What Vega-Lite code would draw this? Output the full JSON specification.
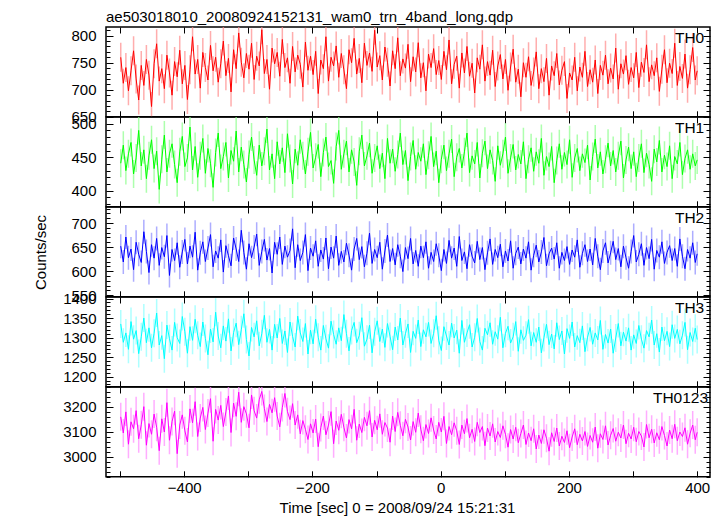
{
"$schema":"https://vega.github.io/schema/vega-lite/v6.json",
"autosize":{"type":"pad"},
"padding":{"left":32,"top":10,"right":5,"bottom":2},
"background":"white",
"spacing":0,
"bounds":"flush",
"title":{"text":"ae503018010_20080924152131_wam0_trn_4band_long.qdp","anchor":"start","frame":"group","fontSize":15,"fontWeight":"normal","font":"Liberation Sans","color":"#000","offset":-3},
"config":{"font":"Liberation Sans","view":{"stroke":"#000","strokeWidth":1.5},
"axis":{"labelFont":"Liberation Sans","labelFontSize":15,"labelColor":"#000","tickColor":"#000","tickWidth":1,"domain":false,"grid":false,"labelOverlap":false,"labelFlush":false,"titleFont":"Liberation Sans","titleFontSize":15,"titleFontWeight":"normal","titleColor":"#000","format":"d"}},
"datasets":{"lc":[
{"t":-499,"TH0":760,"TH1":441,"TH2":652,"TH3":1335,"TH0123":3160},
{"t":-495,"TH0":712,"TH1":468,"TH2":619,"TH3":1288,"TH0123":3095},
{"t":-491,"TH0":741,"TH1":430,"TH2":671,"TH3":1312,"TH0123":3180},
{"t":-487,"TH0":698,"TH1":455,"TH2":628,"TH3":1270,"TH0123":3050},
{"t":-483,"TH0":735,"TH1":472,"TH2":646,"TH3":1341,"TH0123":3140},
{"t":-479,"TH0":772,"TH1":425,"TH2":603,"TH3":1296,"TH0123":3112},
{"t":-475,"TH0":720,"TH1":449,"TH2":660,"TH3":1318,"TH0123":3185},
{"t":-471,"TH0":681,"TH1":490,"TH2":635,"TH3":1259,"TH0123":3072},
{"t":-467,"TH0":745,"TH1":437,"TH2":618,"TH3":1302,"TH0123":3128},
{"t":-463,"TH0":708,"TH1":461,"TH2":682,"TH3":1350,"TH0123":3201},
{"t":-459,"TH0":756,"TH1":418,"TH2":641,"TH3":1287,"TH0123":3046},
{"t":-455,"TH0":727,"TH1":452,"TH2":597,"TH3":1325,"TH0123":3133},
{"t":-451,"TH0":669,"TH1":476,"TH2":655,"TH3":1274,"TH0123":3090},
{"t":-447,"TH0":748,"TH1":433,"TH2":627,"TH3":1311,"TH0123":3171},
{"t":-443,"TH0":785,"TH1":459,"TH2":668,"TH3":1363,"TH0123":3118},
{"t":-439,"TH0":716,"TH1":402,"TH2":612,"TH3":1281,"TH0123":3024},
{"t":-435,"TH0":739,"TH1":447,"TH2":649,"TH3":1305,"TH0123":3152},
{"t":-431,"TH0":702,"TH1":483,"TH2":630,"TH3":1246,"TH0123":3099},
{"t":-427,"TH0":764,"TH1":428,"TH2":674,"TH3":1332,"TH0123":3217},
{"t":-423,"TH0":731,"TH1":455,"TH2":591,"TH3":1297,"TH0123":3066},
{"t":-419,"TH0":690,"TH1":470,"TH2":645,"TH3":1268,"TH0123":3141},
{"t":-415,"TH0":752,"TH1":439,"TH2":622,"TH3":1339,"TH0123":3183},
{"t":-411,"TH0":724,"TH1":412,"TH2":659,"TH3":1300,"TH0123":3012},
{"t":-407,"TH0":773,"TH1":458,"TH2":608,"TH3":1285,"TH0123":3127},
{"t":-403,"TH0":711,"TH1":481,"TH2":640,"TH3":1354,"TH0123":3168},
{"t":-399,"TH0":745,"TH1":436,"TH2":666,"TH3":1315,"TH0123":3104},
{"t":-395,"TH0":682,"TH1":449,"TH2":615,"TH3":1260,"TH0123":3059},
{"t":-391,"TH0":737,"TH1":495,"TH2":652,"TH3":1328,"TH0123":3192},
{"t":-387,"TH0":798,"TH1":431,"TH2":629,"TH3":1293,"TH0123":3136},
{"t":-383,"TH0":729,"TH1":466,"TH2":681,"TH3":1347,"TH0123":3221},
{"t":-379,"TH0":756,"TH1":420,"TH2":602,"TH3":1306,"TH0123":3081},
{"t":-375,"TH0":703,"TH1":452,"TH2":638,"TH3":1277,"TH0123":3155},
{"t":-371,"TH0":769,"TH1":478,"TH2":661,"TH3":1340,"TH0123":3198},
{"t":-367,"TH0":741,"TH1":426,"TH2":620,"TH3":1298,"TH0123":3109},
{"t":-363,"TH0":718,"TH1":463,"TH2":648,"TH3":1256,"TH0123":3175},
{"t":-359,"TH0":782,"TH1":441,"TH2":676,"TH3":1322,"TH0123":3233},
{"t":-355,"TH0":735,"TH1":405,"TH2":609,"TH3":1289,"TH0123":3062},
{"t":-351,"TH0":760,"TH1":457,"TH2":642,"TH3":1365,"TH0123":3190},
{"t":-347,"TH0":714,"TH1":486,"TH2":627,"TH3":1304,"TH0123":3147},
{"t":-343,"TH0":748,"TH1":433,"TH2":665,"TH3":1274,"TH0123":3206},
{"t":-339,"TH0":790,"TH1":451,"TH2":598,"TH3":1330,"TH0123":3121},
{"t":-335,"TH0":726,"TH1":472,"TH2":653,"TH3":1291,"TH0123":3180},
{"t":-331,"TH0":758,"TH1":419,"TH2":632,"TH3":1348,"TH0123":3244},
{"t":-327,"TH0":696,"TH1":460,"TH2":611,"TH3":1266,"TH0123":3097},
{"t":-323,"TH0":774,"TH1":444,"TH2":669,"TH3":1313,"TH0123":3215},
{"t":-319,"TH0":739,"TH1":489,"TH2":646,"TH3":1337,"TH0123":3162},
{"t":-315,"TH0":805,"TH1":428,"TH2":620,"TH3":1282,"TH0123":3259},
{"t":-311,"TH0":751,"TH1":465,"TH2":685,"TH3":1320,"TH0123":3138},
{"t":-307,"TH0":722,"TH1":439,"TH2":639,"TH3":1361,"TH0123":3201},
{"t":-303,"TH0":767,"TH1":413,"TH2":604,"TH3":1295,"TH0123":3172},
{"t":-299,"TH0":738,"TH1":454,"TH2":657,"TH3":1253,"TH0123":3116},
{"t":-295,"TH0":786,"TH1":480,"TH2":628,"TH3":1326,"TH0123":3248},
{"t":-291,"TH0":719,"TH1":446,"TH2":650,"TH3":1302,"TH0123":3185},
{"t":-287,"TH0":762,"TH1":423,"TH2":677,"TH3":1343,"TH0123":3155},
{"t":-283,"TH0":744,"TH1":468,"TH2":612,"TH3":1279,"TH0123":3229},
{"t":-279,"TH0":811,"TH1":437,"TH2":641,"TH3":1310,"TH0123":3262},
{"t":-275,"TH0":730,"TH1":459,"TH2":666,"TH3":1357,"TH0123":3194},
{"t":-271,"TH0":756,"TH1":492,"TH2":623,"TH3":1288,"TH0123":3141},
{"t":-267,"TH0":701,"TH1":431,"TH2":647,"TH3":1321,"TH0123":3210},
{"t":-263,"TH0":777,"TH1":455,"TH2":596,"TH3":1268,"TH0123":3176},
{"t":-259,"TH0":748,"TH1":418,"TH2":660,"TH3":1334,"TH0123":3237},
{"t":-255,"TH0":769,"TH1":473,"TH2":635,"TH3":1299,"TH0123":3163},
{"t":-251,"TH0":725,"TH1":440,"TH2":671,"TH3":1349,"TH0123":3120},
{"t":-247,"TH0":793,"TH1":464,"TH2":614,"TH3":1285,"TH0123":3198},
{"t":-243,"TH0":741,"TH1":427,"TH2":652,"TH3":1317,"TH0123":3254},
{"t":-239,"TH0":759,"TH1":485,"TH2":629,"TH3":1262,"TH0123":3181},
{"t":-235,"TH0":712,"TH1":448,"TH2":643,"TH3":1340,"TH0123":3149},
{"t":-231,"TH0":780,"TH1":410,"TH2":688,"TH3":1303,"TH0123":3213},
{"t":-227,"TH0":733,"TH1":462,"TH2":607,"TH3":1276,"TH0123":3127},
{"t":-223,"TH0":764,"TH1":438,"TH2":655,"TH3":1355,"TH0123":3168},
{"t":-219,"TH0":747,"TH1":476,"TH2":622,"TH3":1312,"TH0123":3092},
{"t":-215,"TH0":705,"TH1":452,"TH2":639,"TH3":1290,"TH0123":3145},
{"t":-211,"TH0":788,"TH1":425,"TH2":676,"TH3":1336,"TH0123":3110},
{"t":-207,"TH0":736,"TH1":458,"TH2":601,"TH3":1258,"TH0123":3069},
{"t":-203,"TH0":762,"TH1":487,"TH2":648,"TH3":1319,"TH0123":3132},
{"t":-199,"TH0":728,"TH1":434,"TH2":631,"TH3":1284,"TH0123":3095},
{"t":-195,"TH0":771,"TH1":450,"TH2":663,"TH3":1347,"TH0123":3151},
{"t":-191,"TH0":693,"TH1":469,"TH2":610,"TH3":1301,"TH0123":3040},
{"t":-187,"TH0":755,"TH1":421,"TH2":644,"TH3":1268,"TH0123":3117},
{"t":-183,"TH0":739,"TH1":457,"TH2":625,"TH3":1331,"TH0123":3163},
{"t":-179,"TH0":798,"TH1":480,"TH2":669,"TH3":1297,"TH0123":3088},
{"t":-175,"TH0":716,"TH1":436,"TH2":605,"TH3":1273,"TH0123":3127},
{"t":-171,"TH0":760,"TH1":445,"TH2":650,"TH3":1342,"TH0123":3181},
{"t":-167,"TH0":744,"TH1":411,"TH2":627,"TH3":1308,"TH0123":3052},
{"t":-163,"TH0":781,"TH1":466,"TH2":673,"TH3":1283,"TH0123":3143},
{"t":-159,"TH0":723,"TH1":490,"TH2":612,"TH3":1325,"TH0123":3106},
{"t":-155,"TH0":767,"TH1":432,"TH2":641,"TH3":1292,"TH0123":3170},
{"t":-151,"TH0":737,"TH1":455,"TH2":619,"TH3":1359,"TH0123":3118},
{"t":-147,"TH0":702,"TH1":474,"TH2":658,"TH3":1310,"TH0123":3075},
{"t":-143,"TH0":774,"TH1":428,"TH2":633,"TH3":1266,"TH0123":3149},
{"t":-139,"TH0":750,"TH1":461,"TH2":602,"TH3":1318,"TH0123":3112},
{"t":-135,"TH0":795,"TH1":443,"TH2":646,"TH3":1339,"TH0123":3190},
{"t":-131,"TH0":729,"TH1":408,"TH2":668,"TH3":1287,"TH0123":3066},
{"t":-127,"TH0":758,"TH1":459,"TH2":624,"TH3":1305,"TH0123":3131},
{"t":-123,"TH0":713,"TH1":483,"TH2":651,"TH3":1351,"TH0123":3097},
{"t":-119,"TH0":786,"TH1":437,"TH2":609,"TH3":1278,"TH0123":3158},
{"t":-115,"TH0":745,"TH1":452,"TH2":637,"TH3":1296,"TH0123":3124},
{"t":-111,"TH0":768,"TH1":471,"TH2":679,"TH3":1332,"TH0123":3185},
{"t":-107,"TH0":734,"TH1":426,"TH2":616,"TH3":1261,"TH0123":3079},
{"t":-103,"TH0":810,"TH1":449,"TH2":645,"TH3":1315,"TH0123":3146},
{"t":-99,"TH0":742,"TH1":467,"TH2":628,"TH3":1343,"TH0123":3108},
{"t":-95,"TH0":763,"TH1":433,"TH2":660,"TH3":1290,"TH0123":3172},
{"t":-91,"TH0":718,"TH1":456,"TH2":604,"TH3":1322,"TH0123":3090},
{"t":-87,"TH0":779,"TH1":418,"TH2":642,"TH3":1275,"TH0123":3137},
{"t":-83,"TH0":751,"TH1":478,"TH2":675,"TH3":1336,"TH0123":3115},
{"t":-79,"TH0":707,"TH1":441,"TH2":620,"TH3":1303,"TH0123":3058},
{"t":-75,"TH0":772,"TH1":462,"TH2":647,"TH3":1269,"TH0123":3163},
{"t":-71,"TH0":739,"TH1":429,"TH2":613,"TH3":1327,"TH0123":3101},
{"t":-67,"TH0":796,"TH1":454,"TH2":655,"TH3":1294,"TH0123":3178},
{"t":-63,"TH0":726,"TH1":486,"TH2":631,"TH3":1350,"TH0123":3126},
{"t":-59,"TH0":757,"TH1":439,"TH2":599,"TH3":1281,"TH0123":3084},
{"t":-55,"TH0":740,"TH1":460,"TH2":649,"TH3":1310,"TH0123":3150},
{"t":-51,"TH0":784,"TH1":415,"TH2":626,"TH3":1335,"TH0123":3119},
{"t":-47,"TH0":715,"TH1":451,"TH2":668,"TH3":1262,"TH0123":3067},
{"t":-43,"TH0":761,"TH1":475,"TH2":615,"TH3":1316,"TH0123":3141},
{"t":-39,"TH0":733,"TH1":432,"TH2":643,"TH3":1298,"TH0123":3098},
{"t":-35,"TH0":787,"TH1":457,"TH2":610,"TH3":1345,"TH0123":3175},
{"t":-31,"TH0":722,"TH1":444,"TH2":652,"TH3":1277,"TH0123":3110},
{"t":-27,"TH0":750,"TH1":470,"TH2":628,"TH3":1320,"TH0123":3064},
{"t":-23,"TH0":698,"TH1":424,"TH2":661,"TH3":1302,"TH0123":3129},
{"t":-19,"TH0":766,"TH1":453,"TH2":606,"TH3":1339,"TH0123":3093},
{"t":-15,"TH0":741,"TH1":481,"TH2":639,"TH3":1285,"TH0123":3156},
{"t":-11,"TH0":776,"TH1":436,"TH2":620,"TH3":1311,"TH0123":3107},
{"t":-7,"TH0":728,"TH1":459,"TH2":657,"TH3":1356,"TH0123":3071},
{"t":-3,"TH0":754,"TH1":412,"TH2":633,"TH3":1293,"TH0123":3138},
{"t":1,"TH0":719,"TH1":447,"TH2":601,"TH3":1267,"TH0123":3099},
{"t":5,"TH0":771,"TH1":468,"TH2":645,"TH3":1328,"TH0123":3162},
{"t":9,"TH0":737,"TH1":430,"TH2":616,"TH3":1304,"TH0123":3053},
{"t":13,"TH0":792,"TH1":455,"TH2":664,"TH3":1281,"TH0123":3121},
{"t":17,"TH0":711,"TH1":477,"TH2":627,"TH3":1337,"TH0123":3088},
{"t":21,"TH0":747,"TH1":421,"TH2":648,"TH3":1299,"TH0123":3136},
{"t":25,"TH0":762,"TH1":450,"TH2":610,"TH3":1319,"TH0123":3104},
{"t":29,"TH0":703,"TH1":463,"TH2":672,"TH3":1260,"TH0123":3049},
{"t":33,"TH0":768,"TH1":434,"TH2":622,"TH3":1344,"TH0123":3127},
{"t":37,"TH0":731,"TH1":458,"TH2":640,"TH3":1288,"TH0123":3092},
{"t":41,"TH0":780,"TH1":486,"TH2":605,"TH3":1312,"TH0123":3153},
{"t":45,"TH0":725,"TH1":427,"TH2":655,"TH3":1333,"TH0123":3076},
{"t":49,"TH0":749,"TH1":452,"TH2":631,"TH3":1276,"TH0123":3110},
{"t":53,"TH0":694,"TH1":440,"TH2":617,"TH3":1301,"TH0123":3061},
{"t":57,"TH0":759,"TH1":472,"TH2":662,"TH3":1349,"TH0123":3138},
{"t":61,"TH0":738,"TH1":419,"TH2":624,"TH3":1290,"TH0123":3097},
{"t":65,"TH0":783,"TH1":456,"TH2":649,"TH3":1268,"TH0123":3121},
{"t":69,"TH0":716,"TH1":474,"TH2":603,"TH3":1324,"TH0123":3044},
{"t":73,"TH0":752,"TH1":433,"TH2":638,"TH3":1307,"TH0123":3115},
{"t":77,"TH0":727,"TH1":461,"TH2":667,"TH3":1338,"TH0123":3083},
{"t":81,"TH0":773,"TH1":445,"TH2":614,"TH3":1283,"TH0123":3132},
{"t":85,"TH0":706,"TH1":414,"TH2":645,"TH3":1315,"TH0123":3059},
{"t":89,"TH0":744,"TH1":467,"TH2":628,"TH3":1296,"TH0123":3101},
{"t":93,"TH0":765,"TH1":438,"TH2":656,"TH3":1352,"TH0123":3077},
{"t":97,"TH0":720,"TH1":455,"TH2":609,"TH3":1274,"TH0123":3124},
{"t":101,"TH0":756,"TH1":480,"TH2":642,"TH3":1311,"TH0123":3090},
{"t":105,"TH0":699,"TH1":426,"TH2":621,"TH3":1329,"TH0123":3038},
{"t":109,"TH0":742,"TH1":449,"TH2":663,"TH3":1286,"TH0123":3109},
{"t":113,"TH0":775,"TH1":469,"TH2":606,"TH3":1302,"TH0123":3071},
{"t":117,"TH0":714,"TH1":431,"TH2":637,"TH3":1341,"TH0123":3118},
{"t":121,"TH0":738,"TH1":454,"TH2":650,"TH3":1265,"TH0123":3056},
{"t":125,"TH0":687,"TH1":440,"TH2":615,"TH3":1320,"TH0123":3093},
{"t":129,"TH0":750,"TH1":473,"TH2":646,"TH3":1293,"TH0123":3127},
{"t":133,"TH0":723,"TH1":418,"TH2":627,"TH3":1306,"TH0123":3049},
{"t":137,"TH0":761,"TH1":447,"TH2":661,"TH3":1346,"TH0123":3095},
{"t":141,"TH0":708,"TH1":464,"TH2":602,"TH3":1279,"TH0123":3064},
{"t":145,"TH0":733,"TH1":429,"TH2":633,"TH3":1313,"TH0123":3112},
{"t":149,"TH0":770,"TH1":458,"TH2":654,"TH3":1288,"TH0123":3031},
{"t":153,"TH0":702,"TH1":441,"TH2":619,"TH3":1327,"TH0123":3087},
{"t":157,"TH0":739,"TH1":478,"TH2":640,"TH3":1261,"TH0123":3053},
{"t":161,"TH0":715,"TH1":423,"TH2":670,"TH3":1300,"TH0123":3108},
{"t":165,"TH0":758,"TH1":451,"TH2":611,"TH3":1334,"TH0123":3074},
{"t":169,"TH0":690,"TH1":436,"TH2":636,"TH3":1282,"TH0123":3022},
{"t":173,"TH0":744,"TH1":466,"TH2":648,"TH3":1309,"TH0123":3096},
{"t":177,"TH0":726,"TH1":412,"TH2":625,"TH3":1271,"TH0123":3061},
{"t":181,"TH0":767,"TH1":445,"TH2":659,"TH3":1338,"TH0123":3115},
{"t":185,"TH0":709,"TH1":470,"TH2":606,"TH3":1295,"TH0123":3043},
{"t":189,"TH0":736,"TH1":432,"TH2":639,"TH3":1317,"TH0123":3082},
{"t":193,"TH0":752,"TH1":457,"TH2":622,"TH3":1258,"TH0123":3057},
{"t":197,"TH0":684,"TH1":439,"TH2":651,"TH3":1323,"TH0123":3104},
{"t":201,"TH0":731,"TH1":476,"TH2":614,"TH3":1298,"TH0123":3036},
{"t":205,"TH0":718,"TH1":420,"TH2":644,"TH3":1340,"TH0123":3079},
{"t":209,"TH0":760,"TH1":449,"TH2":629,"TH3":1276,"TH0123":3112},
{"t":213,"TH0":698,"TH1":463,"TH2":665,"TH3":1305,"TH0123":3048},
{"t":217,"TH0":742,"TH1":430,"TH2":608,"TH3":1287,"TH0123":3090},
{"t":221,"TH0":723,"TH1":455,"TH2":637,"TH3":1330,"TH0123":3063},
{"t":225,"TH0":771,"TH1":442,"TH2":655,"TH3":1264,"TH0123":3101},
{"t":229,"TH0":706,"TH1":468,"TH2":620,"TH3":1301,"TH0123":3041},
{"t":233,"TH0":737,"TH1":416,"TH2":646,"TH3":1326,"TH0123":3085},
{"t":237,"TH0":714,"TH1":451,"TH2":613,"TH3":1283,"TH0123":3058},
{"t":241,"TH0":755,"TH1":477,"TH2":668,"TH3":1312,"TH0123":3119},
{"t":245,"TH0":693,"TH1":434,"TH2":631,"TH3":1294,"TH0123":3034},
{"t":249,"TH0":745,"TH1":458,"TH2":603,"TH3":1344,"TH0123":3092},
{"t":253,"TH0":727,"TH1":425,"TH2":642,"TH3":1270,"TH0123":3069},
{"t":257,"TH0":764,"TH1":447,"TH2":659,"TH3":1308,"TH0123":3124},
{"t":261,"TH0":711,"TH1":471,"TH2":617,"TH3":1286,"TH0123":3047},
{"t":265,"TH0":740,"TH1":437,"TH2":638,"TH3":1322,"TH0123":3086},
{"t":269,"TH0":720,"TH1":460,"TH2":662,"TH3":1260,"TH0123":3113},
{"t":273,"TH0":777,"TH1":428,"TH2":624,"TH3":1299,"TH0123":3062},
{"t":277,"TH0":701,"TH1":452,"TH2":647,"TH3":1336,"TH0123":3098},
{"t":281,"TH0":748,"TH1":474,"TH2":609,"TH3":1279,"TH0123":3075},
{"t":285,"TH0":729,"TH1":419,"TH2":652,"TH3":1314,"TH0123":3127},
{"t":289,"TH0":763,"TH1":446,"TH2":628,"TH3":1291,"TH0123":3052},
{"t":293,"TH0":710,"TH1":465,"TH2":606,"TH3":1325,"TH0123":3094},
{"t":297,"TH0":741,"TH1":433,"TH2":641,"TH3":1268,"TH0123":3071},
{"t":301,"TH0":722,"TH1":458,"TH2":674,"TH3":1307,"TH0123":3118},
{"t":305,"TH0":769,"TH1":421,"TH2":619,"TH3":1285,"TH0123":3060},
{"t":309,"TH0":704,"TH1":449,"TH2":635,"TH3":1331,"TH0123":3101},
{"t":313,"TH0":751,"TH1":470,"TH2":657,"TH3":1296,"TH0123":3083},
{"t":317,"TH0":732,"TH1":427,"TH2":612,"TH3":1273,"TH0123":3039},
{"t":321,"TH0":783,"TH1":456,"TH2":649,"TH3":1318,"TH0123":3129},
{"t":325,"TH0":715,"TH1":439,"TH2":626,"TH3":1302,"TH0123":3076},
{"t":329,"TH0":746,"TH1":414,"TH2":666,"TH3":1345,"TH0123":3110},
{"t":333,"TH0":726,"TH1":462,"TH2":604,"TH3":1281,"TH0123":3055},
{"t":337,"TH0":759,"TH1":443,"TH2":643,"TH3":1310,"TH0123":3096},
{"t":341,"TH0":697,"TH1":475,"TH2":629,"TH3":1263,"TH0123":3068},
{"t":345,"TH0":738,"TH1":428,"TH2":661,"TH3":1327,"TH0123":3121},
{"t":349,"TH0":774,"TH1":453,"TH2":616,"TH3":1292,"TH0123":3085},
{"t":353,"TH0":713,"TH1":436,"TH2":639,"TH3":1316,"TH0123":3043},
{"t":357,"TH0":749,"TH1":467,"TH2":653,"TH3":1277,"TH0123":3107},
{"t":361,"TH0":730,"TH1":418,"TH2":622,"TH3":1333,"TH0123":3072},
{"t":365,"TH0":786,"TH1":451,"TH2":647,"TH3":1298,"TH0123":3130},
{"t":369,"TH0":708,"TH1":440,"TH2":610,"TH3":1321,"TH0123":3064},
{"t":373,"TH0":743,"TH1":472,"TH2":667,"TH3":1284,"TH0123":3099},
{"t":377,"TH0":721,"TH1":424,"TH2":631,"TH3":1306,"TH0123":3081},
{"t":381,"TH0":766,"TH1":448,"TH2":605,"TH3":1339,"TH0123":3116},
{"t":385,"TH0":703,"TH1":461,"TH2":645,"TH3":1269,"TH0123":3050},
{"t":389,"TH0":737,"TH1":432,"TH2":627,"TH3":1313,"TH0123":3094},
{"t":393,"TH0":778,"TH1":455,"TH2":659,"TH3":1290,"TH0123":3127},
{"t":397,"TH0":718,"TH1":437,"TH2":618,"TH3":1324,"TH0123":3068},
{"t":400,"TH0":735,"TH1":446,"TH2":636,"TH3":1295,"TH0123":3098}
]},
"vconcat":[
{"width":604,"height":89.8,"data":{"name":"lc"},"resolve":{"axis":{"x":"independent","y":"independent"}},
"layer":[
{"mark":{"type":"tick","orient":"vertical","size":29,"thickness":1.5,"color":"#ff8a8a","clip":true},
"encoding":{"x":{"field":"t","type":"quantitative","scale":{"domain":[-522,420],"nice":false,"zero":false},"axis":{"orient":"bottom","values":[-500,-400,-300,-200,-100,0,100,200,300,400],"labels":false,"tickSize":-6,"title":null,"minExtent":0,"maxExtent":0}},
"y":{"field":"TH0","type":"quantitative","scale":{"domain":[650,816],"nice":false,"zero":false},"axis":{"orient":"left","values":[650,660,670,680,690,700,710,720,730,740,750,760,770,780,790,800,810],"labelExpr":"datum.value % 50 === 0 ? datum.label : ''","tickSize":{"condition":{"test":"datum.value % 50 === 0","value":-7},"value":-4},"labelPadding":17,"title":null}}}},
{"mark":{"type":"line","color":"#ff0000","strokeWidth":1,"clip":true},
"encoding":{"x":{"field":"t","type":"quantitative","axis":{"orient":"top","values":[-500,-400,-300,-200,-100,0,100,200,300,400],"labels":false,"tickSize":-6,"title":null,"minExtent":0,"maxExtent":0}},
"y":{"field":"TH0","type":"quantitative","axis":{"orient":"right","values":[650,660,670,680,690,700,710,720,730,740,750,760,770,780,790,800,810],"labels":false,"tickSize":{"condition":{"test":"datum.value % 50 === 0","value":-7},"value":-4},"title":null,"minExtent":0,"maxExtent":0}}}},
{"data":{"values":[{}]},"mark":{"type":"text","text":"TH0","align":"right","baseline":"alphabetic","fontSize":15.5,"color":"#000"},
"encoding":{"x":{"datum":411,"type":"quantitative","axis":null},"y":{"datum":786,"type":"quantitative","axis":null}}}
]},
{"width":604,"height":89.8,"data":{"name":"lc"},"resolve":{"axis":{"x":"independent","y":"independent"}},
"layer":[
{"mark":{"type":"tick","orient":"vertical","size":28,"thickness":1.5,"color":"#8aff8a","clip":true},
"encoding":{"x":{"field":"t","type":"quantitative","scale":{"domain":[-522,420],"nice":false,"zero":false},"axis":{"orient":"bottom","values":[-500,-400,-300,-200,-100,0,100,200,300,400],"labels":false,"tickSize":-6,"title":null,"minExtent":0,"maxExtent":0}},
"y":{"field":"TH1","type":"quantitative","scale":{"domain":[376,510],"nice":false,"zero":false},"axis":{"orient":"left","values":[380,390,400,410,420,430,440,450,460,470,480,490,500,510],"labelExpr":"datum.value % 50 === 0 ? datum.label : ''","tickSize":{"condition":{"test":"datum.value % 50 === 0","value":-7},"value":-4},"labelPadding":17,"title":null}}}},
{"mark":{"type":"line","color":"#00ff00","strokeWidth":1,"clip":true},
"encoding":{"x":{"field":"t","type":"quantitative","axis":{"orient":"top","values":[-500,-400,-300,-200,-100,0,100,200,300,400],"labels":false,"tickSize":-6,"title":null,"minExtent":0,"maxExtent":0}},
"y":{"field":"TH1","type":"quantitative","axis":{"orient":"right","values":[380,390,400,410,420,430,440,450,460,470,480,490,500,510],"labels":false,"tickSize":{"condition":{"test":"datum.value % 50 === 0","value":-7},"value":-4},"title":null,"minExtent":0,"maxExtent":0}}}},
{"data":{"values":[{}]},"mark":{"type":"text","text":"TH1","align":"right","baseline":"alphabetic","fontSize":15.5,"color":"#000"},
"encoding":{"x":{"datum":411,"type":"quantitative","axis":null},"y":{"datum":486,"type":"quantitative","axis":null}}}
]},
{"width":604,"height":89.8,"data":{"name":"lc"},"resolve":{"axis":{"x":"independent","y":"independent"}},
"layer":[
{"mark":{"type":"tick","orient":"vertical","size":24,"thickness":1.5,"color":"#8a8aff","clip":true},
"encoding":{"x":{"field":"t","type":"quantitative","scale":{"domain":[-522,420],"nice":false,"zero":false},"axis":{"orient":"bottom","values":[-500,-400,-300,-200,-100,0,100,200,300,400],"labels":false,"tickSize":-6,"title":null,"minExtent":0,"maxExtent":0}},
"y":{"field":"TH2","type":"quantitative","scale":{"domain":[546.5,733.5],"nice":false,"zero":false},"axis":{"orient":"left","values":[550,560,570,580,590,600,610,620,630,640,650,660,670,680,690,700,710,720,730],"labelExpr":"datum.value % 50 === 0 ? datum.label : ''","tickSize":{"condition":{"test":"datum.value % 50 === 0","value":-7},"value":-4},"labelPadding":17,"title":"Counts/sec","titleX":-66,"titleY":45,"titleAngle":270,"titleBaseline":"middle","titleAlign":"center"}}}},
{"mark":{"type":"line","color":"#0000ff","strokeWidth":1,"clip":true},
"encoding":{"x":{"field":"t","type":"quantitative","axis":{"orient":"top","values":[-500,-400,-300,-200,-100,0,100,200,300,400],"labels":false,"tickSize":-6,"title":null,"minExtent":0,"maxExtent":0}},
"y":{"field":"TH2","type":"quantitative","axis":{"orient":"right","values":[550,560,570,580,590,600,610,620,630,640,650,660,670,680,690,700,710,720,730],"labels":false,"tickSize":{"condition":{"test":"datum.value % 50 === 0","value":-7},"value":-4},"title":null,"minExtent":0,"maxExtent":0}}}},
{"data":{"values":[{}]},"mark":{"type":"text","text":"TH2","align":"right","baseline":"alphabetic","fontSize":15.5,"color":"#000"},
"encoding":{"x":{"datum":411,"type":"quantitative","axis":null},"y":{"datum":700.5,"type":"quantitative","axis":null}}}
]},
{"width":604,"height":89.8,"data":{"name":"lc"},"resolve":{"axis":{"x":"independent","y":"independent"}},
"layer":[
{"mark":{"type":"tick","orient":"vertical","size":28,"thickness":1.5,"color":"#8affff","clip":true},
"encoding":{"x":{"field":"t","type":"quantitative","scale":{"domain":[-522,420],"nice":false,"zero":false},"axis":{"orient":"bottom","values":[-500,-400,-300,-200,-100,0,100,200,300,400],"labels":false,"tickSize":-6,"title":null,"minExtent":0,"maxExtent":0}},
"y":{"field":"TH3","type":"quantitative","scale":{"domain":[1174,1404],"nice":false,"zero":false},"axis":{"orient":"left","values":[1180,1190,1200,1210,1220,1230,1240,1250,1260,1270,1280,1290,1300,1310,1320,1330,1340,1350,1360,1370,1380,1390,1400],"labelExpr":"datum.value % 50 === 0 ? datum.label : ''","tickSize":{"condition":{"test":"datum.value % 50 === 0","value":-7},"value":-4},"labelPadding":17,"title":null}}}},
{"mark":{"type":"line","color":"#00ffff","strokeWidth":1,"clip":true},
"encoding":{"x":{"field":"t","type":"quantitative","axis":{"orient":"top","values":[-500,-400,-300,-200,-100,0,100,200,300,400],"labels":false,"tickSize":-6,"title":null,"minExtent":0,"maxExtent":0}},
"y":{"field":"TH3","type":"quantitative","axis":{"orient":"right","values":[1180,1190,1200,1210,1220,1230,1240,1250,1260,1270,1280,1290,1300,1310,1320,1330,1340,1350,1360,1370,1380,1390,1400],"labels":false,"tickSize":{"condition":{"test":"datum.value % 50 === 0","value":-7},"value":-4},"title":null,"minExtent":0,"maxExtent":0}}}},
{"data":{"values":[{}]},"mark":{"type":"text","text":"TH3","align":"right","baseline":"alphabetic","fontSize":15.5,"color":"#000"},
"encoding":{"x":{"datum":411,"type":"quantitative","axis":null},"y":{"datum":1363,"type":"quantitative","axis":null}}}
]},
{"width":604,"height":89.8,"data":{"name":"lc"},"resolve":{"axis":{"x":"independent","y":"independent"}},
"layer":[
{"mark":{"type":"tick","orient":"vertical","size":28,"thickness":1.5,"color":"#ff8aff","clip":true},
"encoding":{"x":{"field":"t","type":"quantitative","scale":{"domain":[-522,420],"nice":false,"zero":false},"axis":{"orient":"bottom","values":[-500,-400,-300,-200,-100,0,100,200,300,400],"labelExpr":"datum.value % 200 === 0 ? datum.label : ''","tickSize":-6,"labelPadding":10,"title":"Time [sec] 0 = 2008/09/24 15:21:31","titleX":291,"titleY":31,"titleBaseline":"middle","titleAlign":"center"}},
"y":{"field":"TH0123","type":"quantitative","scale":{"domain":[2919,3280],"nice":false,"zero":false},"axis":{"orient":"left","values":[2920,2940,2960,2980,3000,3020,3040,3060,3080,3100,3120,3140,3160,3180,3200,3220,3240,3260,3280],"labelExpr":"datum.value % 100 === 0 ? datum.label : ''","tickSize":{"condition":{"test":"datum.value % 100 === 0","value":-7},"value":-4},"labelPadding":17,"title":null}}}},
{"mark":{"type":"line","color":"#ff00ff","strokeWidth":1,"clip":true},
"encoding":{"x":{"field":"t","type":"quantitative","axis":{"orient":"top","values":[-500,-400,-300,-200,-100,0,100,200,300,400],"labels":false,"tickSize":-6,"title":null,"minExtent":0,"maxExtent":0}},
"y":{"field":"TH0123","type":"quantitative","axis":{"orient":"right","values":[2920,2940,2960,2980,3000,3020,3040,3060,3080,3100,3120,3140,3160,3180,3200,3220,3240,3260,3280],"labels":false,"tickSize":{"condition":{"test":"datum.value % 100 === 0","value":-7},"value":-4},"title":null,"minExtent":0,"maxExtent":0}}}},
{"data":{"values":[{}]},"mark":{"type":"text","text":"TH0123","align":"right","baseline":"alphabetic","fontSize":15.5,"color":"#000"},
"encoding":{"x":{"datum":417,"type":"quantitative","axis":null},"y":{"datum":3216,"type":"quantitative","axis":null}}}
]}
]
}
